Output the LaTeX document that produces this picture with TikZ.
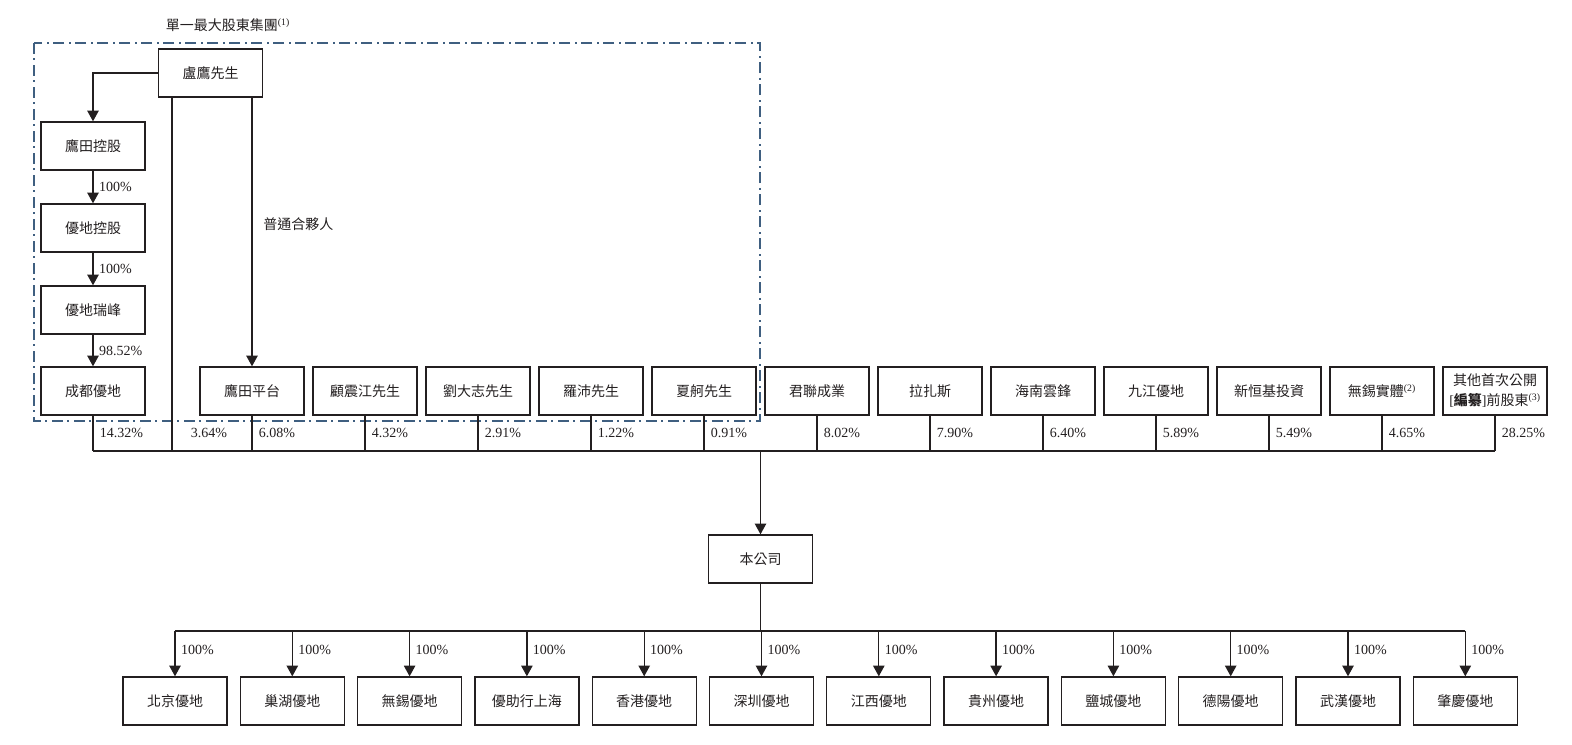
\documentclass[tikz,border=0pt]{standalone}
\usepackage{fontspec}
\setmainfont{Liberation Serif}
\newfontfamily\cjk{Noto Sans CJK TC}
\usetikzlibrary{arrows.meta,positioning}
\definecolor{ink}{HTML}{231F20}
\definecolor{grpblue}{HTML}{3F5F80}
\newcommand\boxfont{\fontsize{10.5pt}{15pt}\selectfont}
\tikzset{
  box/.style={draw=ink, line width=1pt, minimum width=78pt, minimum height=36pt,
    inner sep=0pt, font=\boxfont\cjk, text=ink, align=center},
  pct/.style={anchor=west, inner sep=0pt, text=ink, font=\boxfont},
  link/.style={draw=ink, line width=1pt},
  group/.style={draw=grpblue, line width=1pt,
    dash pattern=on 8pt off 3.5pt on 1.5pt off 3.5pt},
}
\begin{document}
\begin{tikzpicture}[x=0.75pt, y=-0.75pt, >={Triangle[length=8pt,width=8.5pt]}]
    \useasboundingbox (0,0) rectangle (1572,744);
    % Rows used by the connectors:
    \coordinate (bar)    at (0,451);
    \coordinate (pctrow) at (0,433);
    \coordinate (subbar) at (0,631);
    \coordinate (lux)    at (172,0);

    % The single largest shareholder group:
    \draw [group] (34,43) rectangle (760,421);
    \node [text=ink, font=\boxfont] (grp) at (228,25) {{\cjk 單一最大股東集團}\textsuperscript{(1)}};

    % Left chain:
    \node [box] (lu)  at (210.5,73) {盧鷹先生};
    \node [box] (yt)  at (93,146)   {鷹田控股};
    \node [box] (ydk) at (93,228)   {優地控股};
    \node [box] (ydr) at (93,310)   {優地瑞峰};
    \node [box] (cd)  at (93,391)   {成都優地};
    \draw [link,->] (lu.west) -| (yt.north);
    \draw [link,->] (yt) -- (ydk) node [pct, midway, right=4pt] (p-yt)  {100\%};
    \draw [link,->] (ydk) -- (ydr) node [pct, midway, right=4pt] (p-ydk) {100\%};
    \draw [link,->] (ydr) -- (cd) node [pct, midway, right=4pt] (p-ydr) {98.52\%};

    % Shareholders in a row:
    \foreach \nm/\txt [count=\i from 0] in {tp/鷹田平台, gu/顧震江先生, liu/劉大志先生,
        luo/羅沛先生, xia/夏舸先生, jl/君聯成業, lz/拉扎斯, hn/海南雲鋒, jj/九江優地,
        xh/新恒基投資}{%
        \node [box] (\nm) at ({252+113*\i},391) {\txt};
    }
    \node [box] (wxs) at (1382,391) {無錫實體{\rmfamily\textsuperscript{(2)}}};
    \node [box] (qt)  at (1495,391) {其他首次公開\\{\rmfamily[}\textbf{編纂}{\rmfamily]}前股東{\rmfamily\textsuperscript{(3)}}};

    % General partner:
    \draw [link,->] (tp.north |- lu.south) -- (tp.north)
        node [pct, pos=0.47, right=8pt, font=\boxfont\cjk] (gp) {普通合夥人};

    % Holdings in the company:
    \draw [link] (cd.south |- bar) -- (qt.south |- bar);
    \draw [link] (lu.south -| lux) -- (lux |- bar);
    \node [pct, xshift=14pt] (p-lu) at (lux |- pctrow) {3.64\%};
    \foreach \nm/\p in {cd/14.32, tp/6.08, gu/4.32, liu/2.91, luo/1.22, xia/0.91, jl/8.02,
        lz/7.90, hn/6.40, jj/5.89, xh/5.49, wxs/4.65, qt/28.25}{%
        \draw [link] (\nm.south) -- (\nm.south |- bar);
        \node [pct, xshift=5pt] (p-\nm) at (\nm.south |- pctrow) {\p\%};
    }

    % The company:
    \node [box] (bc) at (760.5,559) {本公司};
    \draw [link,->] (bc.north |- bar) -- (bc.north);

    % Subsidiaries:
    \foreach \nm/\txt [count=\i from 0] in {bj/北京優地, ch/巢湖優地, wx/無錫優地,
        yz/優助行上海, hk/香港優地, sz/深圳優地, jx/江西優地, gz/貴州優地, yc/鹽城優地,
        dy/德陽優地, wh/武漢優地, zq/肇慶優地}{%
        \node [box] (\nm) at ({175+117.3*\i},701) {\txt};
        \draw [link,->] (\nm.north |- subbar) -- (\nm.north)
            node [pct, pos=0.42, right=4pt] (s-\nm) {100\%};
    }
    \draw [link] (bc.south) -- (bc.south |- subbar);
    \draw [link] (bj.north |- subbar) -- (zq.north |- subbar);
\end{tikzpicture}
\end{document}
